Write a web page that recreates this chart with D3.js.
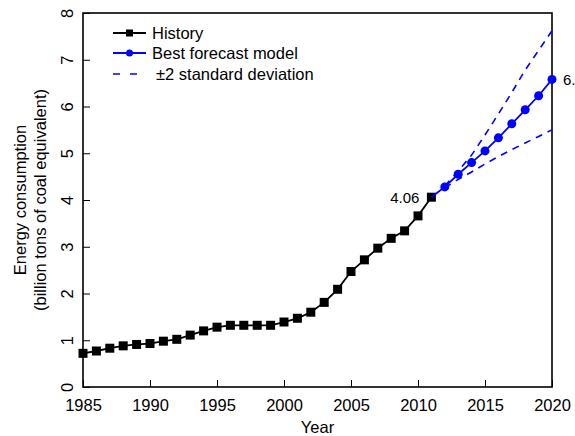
<!DOCTYPE html>
<html>
<head>
<meta charset="utf-8">
<script src="https://cdn.jsdelivr.net/npm/d3@7/dist/d3.min.js"></script>
<style>
  html, body { margin: 0; padding: 0; background: #fff; }
  svg { display: block; font-family: "Liberation Sans", Arial, sans-serif; }
</style>
</head>
<body>
<svg id="chart" width="575" height="436"></svg>
<script>
// Historical energy consumption, 1985-2011 (billion tons of coal equivalent)
const historyYears = d3.range(1985, 2012);
const historyValues = [0.72, 0.77, 0.83, 0.88, 0.91, 0.93, 0.98, 1.02, 1.11, 1.20,
  1.28, 1.32, 1.32, 1.32, 1.32, 1.39, 1.47, 1.60, 1.81, 2.09,
  2.47, 2.72, 2.97, 3.18, 3.34, 3.66, 4.06];

// Best forecast model, 2012-2020
const forecastYears = d3.range(2012, 2021);
const forecastValues = [4.28, 4.55, 4.80, 5.05, 5.33, 5.63, 5.93, 6.23, 6.58];

// ±2 standard deviation envelope
const upperValues = [4.30, 4.62, 4.96, 5.39, 5.84, 6.30, 6.78, 7.20, 7.62];
const lowerValues = [4.26, 4.44, 4.60, 4.77, 4.93, 5.08, 5.22, 5.36, 5.50];

const xTicks = [1985, 1990, 1995, 2000, 2005, 2010, 2015, 2020];
const yTicks = [0, 1, 2, 3, 4, 5, 6, 7, 8];

const legendLabels = ["History", "Best forecast model", "\u00b12 standard deviation"];

const svg = d3.select("#chart");
const margin = { left: 83, right: 23, top: 13, bottom: 49 };
const W = 575, H = 436;

const x = d3.scaleLinear().domain([1985, 2020]).range([margin.left, W - margin.right]);
const y = d3.scaleLinear().domain([0, 8]).range([H - margin.bottom, margin.top]);

const blue = "#0000ff";
const fontSize = 16.5;

// Axes with inward ticks
const xAxis = d3.axisBottom(x).tickValues(xTicks).tickFormat(d3.format("d"))
  .tickSizeInner(-7).tickSizeOuter(0).tickPadding(10);
const yAxis = d3.axisLeft(y).tickValues(yTicks).tickFormat(d3.format("d"))
  .tickSizeInner(-7).tickSizeOuter(0);

const gx = svg.append("g").attr("transform", `translate(0,${y(0)})`).call(xAxis);
gx.select(".domain").remove();
gx.selectAll("line").attr("stroke", "#000").attr("stroke-width", 1);
gx.selectAll("text").attr("font-size", fontSize).attr("fill", "#000")
  .attr("font-family", "Liberation Sans, Arial, sans-serif")
  .attr("y", null).attr("dy", null)
  .attr("dominant-baseline", "central")
  .attr("transform", "translate(0,18)");

const gy = svg.append("g").attr("transform", `translate(${x(1985)},0)`).call(yAxis);
gy.select(".domain").remove();
gy.selectAll("line").attr("stroke", "#000").attr("stroke-width", 1);
// rotated y tick labels
gy.selectAll("text")
  .attr("font-size", fontSize).attr("fill", "#000")
  .attr("font-family", "Liberation Sans, Arial, sans-serif")
  .attr("x", null).attr("dy", null)
  .attr("text-anchor", "middle")
  .attr("dominant-baseline", "central")
  .attr("transform", "translate(-16,0) rotate(-90)");

// Plot frame
svg.append("rect")
  .attr("x", x(1985)).attr("y", y(8))
  .attr("width", x(2020) - x(1985)).attr("height", y(0) - y(8))
  .attr("fill", "none").attr("stroke", "#000").attr("stroke-width", 1.6);

const line = d3.line().x(d => x(d[0])).y(d => y(d[1]));

// ±2 SD dashed lines
const upper = forecastYears.map((yr, i) => [yr, upperValues[i]]);
const lower = forecastYears.map((yr, i) => [yr, lowerValues[i]]);
[upper, lower].forEach(pts => {
  svg.append("path").attr("d", line(pts))
    .attr("fill", "none").attr("stroke", blue).attr("stroke-width", 1.6)
    .attr("stroke-dasharray", "7,6");
});

// History line and markers
const hist = historyYears.map((yr, i) => [yr, historyValues[i]]);
svg.append("path").attr("d", line(hist))
  .attr("fill", "none").attr("stroke", "#000").attr("stroke-width", 1.8);
svg.append("g").selectAll("rect").data(hist).join("rect")
  .attr("x", d => x(d[0]) - 4.5).attr("y", d => y(d[1]) - 4.5)
  .attr("width", 9).attr("height", 9).attr("fill", "#000");

// Forecast line (continues from the last observed year) and markers
const fc = forecastYears.map((yr, i) => [yr, forecastValues[i]]);
svg.append("path").attr("d", line([hist[hist.length - 1]].concat(fc)))
  .attr("fill", "none").attr("stroke", blue).attr("stroke-width", 1.8);
svg.append("g").selectAll("circle").data(fc).join("circle")
  .attr("cx", d => x(d[0])).attr("cy", d => y(d[1])).attr("r", 4.5)
  .attr("fill", blue);

// Value labels
const lastHist = hist[hist.length - 1];
svg.append("text").attr("x", x(lastHist[0]) - 12).attr("y", y(lastHist[1]))
  .attr("text-anchor", "end").attr("dominant-baseline", "central")
  .attr("font-size", 15).text(lastHist[1].toFixed(2));
const lastFc = fc[fc.length - 1];
svg.append("text").attr("x", x(lastFc[0]) + 11).attr("y", y(lastFc[1]))
  .attr("text-anchor", "start").attr("dominant-baseline", "central")
  .attr("font-size", 15).text(lastFc[1].toFixed(2));

// Axis titles
svg.append("text").attr("x", (x(1985) + x(2020)) / 2).attr("y", 427)
  .attr("text-anchor", "middle").attr("dominant-baseline", "central")
  .attr("font-size", fontSize).text("Year");
const yMid = (y(0) + y(8)) / 2;
svg.append("text").attr("transform", `translate(20,${yMid}) rotate(-90)`)
  .attr("text-anchor", "middle").attr("dominant-baseline", "central")
  .attr("font-size", fontSize).text("Energy consumption");
svg.append("text").attr("transform", `translate(40,${yMid}) rotate(-90)`)
  .attr("text-anchor", "middle").attr("dominant-baseline", "central")
  .attr("font-size", fontSize).text("(billion tons of coal equivalent)");

// Legend
const lg = svg.append("g");
const lx0 = 113, lx1 = 146, ltx = 152;
const rows = [33, 53, 74];
lg.append("line").attr("x1", lx0).attr("x2", lx1).attr("y1", rows[0]).attr("y2", rows[0])
  .attr("stroke", "#000").attr("stroke-width", 1.8);
lg.append("rect").attr("x", (lx0 + lx1) / 2 - 3.5).attr("y", rows[0] - 3.5)
  .attr("width", 7).attr("height", 7).attr("fill", "#000");
lg.append("line").attr("x1", lx0).attr("x2", lx1).attr("y1", rows[1]).attr("y2", rows[1])
  .attr("stroke", blue).attr("stroke-width", 1.8);
lg.append("circle").attr("cx", (lx0 + lx1) / 2).attr("cy", rows[1]).attr("r", 3.5)
  .attr("fill", blue);
lg.append("line").attr("x1", lx0).attr("x2", lx1).attr("y1", rows[2]).attr("y2", rows[2])
  .attr("stroke", blue).attr("stroke-width", 1.6).attr("stroke-dasharray", "7,10");
legendLabels.forEach((t, i) => {
  lg.append("text").attr("x", i === 2 ? ltx + 4 : ltx).attr("y", rows[i])
    .attr("dominant-baseline", "central").attr("font-size", fontSize).text(t);
});
</script>
</body>
</html>
